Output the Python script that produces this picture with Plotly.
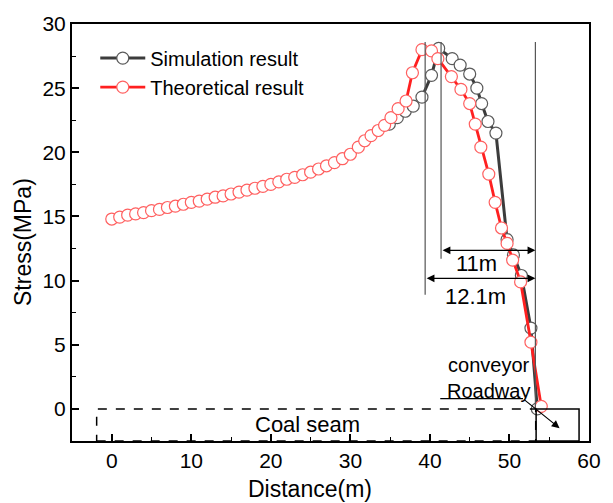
import plotly.graph_objects as go

# Theoretical result (red)
theo_x = [0, 1, 2, 3, 4, 5, 6, 7, 8, 9, 10, 11, 12, 13, 14, 15, 16, 17, 18, 19, 20,
          21, 22, 23, 24, 25, 26, 27, 28, 29, 30, 31, 31.8, 32.6, 33.5, 34.3, 35.1,
          36.0, 37.0, 37.8, 39.0, 40.2, 41.0, 42.7, 43.9, 45.0, 45.7, 46.4, 47.4,
          48.2, 49.0, 49.7, 50.4, 51.4, 52.7, 54.0]
theo_y = [14.8, 14.95, 15.1, 15.2, 15.3, 15.45, 15.55, 15.7, 15.8, 15.95, 16.1, 16.2,
          16.35, 16.5, 16.6, 16.75, 16.9, 17.05, 17.2, 17.35, 17.5, 17.7, 17.9, 18.05,
          18.25, 18.45, 18.7, 18.95, 19.2, 19.5, 19.85, 20.4, 20.9, 21.3, 21.7, 22.1,
          22.7, 23.4, 24.0, 26.2, 28.0, 27.9, 27.3, 25.9, 24.9, 23.8, 22.2, 20.4, 18.3,
          16.1, 14.1, 12.9, 11.6, 9.9, 5.2, 0.2]

# Simulation result (dark grey)
sim_x = [34.9, 35.9, 36.9, 37.9, 39.0, 40.2, 41.1, 42.8, 43.8, 45.0, 45.9, 46.5,
         47.3, 48.3, 49.7, 50.5, 51.5, 52.7, 53.5]
sim_y = [22.2, 22.7, 23.2, 23.6, 24.3, 26.0, 28.1, 27.3, 26.8, 26.1, 25.0, 23.8,
         22.4, 21.5, 13.2, 12.0, 10.4, 6.3, 0.0]

FONT = "Liberation Sans, Arial, sans-serif"

fig = go.Figure()
fig.add_trace(go.Scatter(
    x=sim_x, y=sim_y, mode="lines+markers", name="Simulation result",
    line=dict(color="#3c3c3c", width=3),
    marker=dict(symbol="circle", size=12, color="white",
                line=dict(color="#5a5a5a", width=1.2))))
fig.add_trace(go.Scatter(
    x=theo_x, y=theo_y, mode="lines+markers", name="Theoretical result",
    line=dict(color="#ff2020", width=2.8),
    marker=dict(symbol="circle", size=12, color="white",
                line=dict(color="#ff6060", width=1.2))))

shapes = []
# vertical reference lines
for xv, ylow in [(39.4, 8.9), (41.4, 11.7), (53.26, 0.0)]:
    shapes.append(dict(type="line", xref="x", yref="y", x0=xv, x1=xv, y0=28.6, y1=ylow,
                       line=dict(color="#555555", width=1.2)))
# coal seam (dashed) and roadway (solid) rectangles
shapes.append(dict(type="rect", xref="x", yref="y", x0=-1.9, x1=53.3, y0=-2.5, y1=0,
                   line=dict(color="black", width=1.5, dash="dash")))
shapes.append(dict(type="rect", xref="x", yref="y", x0=53.35, x1=58.75, y0=-2.5, y1=0,
                   line=dict(color="black", width=1.5)))
# underline of Roadway
shapes.append(dict(type="line", xref="x", yref="y", x0=41.3, x1=51.7, y0=0.8, y1=0.8,
                   line=dict(color="black", width=1.2)))

annotations = []
# dimension arrows
for xa, xb, yv in [(41.4, 53.26, 12.36), (39.4, 53.26, 10.18)]:
    annotations.append(dict(x=xb, y=yv, ax=xa, ay=yv, xref="x", yref="y",
                            axref="x", ayref="y", text="", showarrow=True,
                            arrowhead=2, startarrowhead=2, arrowside="end+start",
                            arrowsize=1.3, startarrowsize=1.3, arrowwidth=1.2,
                            arrowcolor="black", standoff=0, startstandoff=0))
annotations.append(dict(x=45.9, y=11.3, xref="x", yref="y", text="11m", showarrow=False,
                        font=dict(size=22, color="black", family=FONT)))
annotations.append(dict(x=45.7, y=8.8, xref="x", yref="y", text="12.1m", showarrow=False,
                        font=dict(size=22, color="black", family=FONT)))
annotations.append(dict(x=24.6, y=-1.25, xref="x", yref="y", text="Coal seam", showarrow=False,
                        font=dict(size=22, color="black", family=FONT)))
annotations.append(dict(x=47.4, y=2.4, xref="x", yref="y", text="conveyor<br>Roadway",
                        showarrow=False, align="center",
                        font=dict(size=20, color="black", family=FONT)))
annotations.append(dict(x=56.3, y=-1.5, ax=51.7, ay=0.8, xref="x", yref="y",
                        axref="x", ayref="y", text="", showarrow=True, arrowhead=2,
                        arrowsize=1.3, arrowwidth=1.2, arrowcolor="black", standoff=0))
# axis titles
annotations.append(dict(x=0.46, y=-0.116, xref="paper", yref="paper", text="Distance(m)",
                        xanchor="center", yanchor="middle",
                        showarrow=False, font=dict(size=23, color="black", family=FONT)))
annotations.append(dict(x=-0.095, y=0.477, xref="paper", yref="paper", text="Stress(MPa)",
                        xanchor="center", yanchor="middle",
                        showarrow=False, textangle=-90,
                        font=dict(size=23, color="black", family=FONT)))

fig.update_layout(
    width=613, height=503,
    margin=dict(l=72, r=13, t=20, b=62),
    paper_bgcolor="white", plot_bgcolor="white",
    font=dict(family=FONT, size=21, color="black"),
    showlegend=True,
    legend=dict(x=0.045, y=0.965, xanchor="left", yanchor="top",
                bgcolor="rgba(0,0,0,0)", font=dict(size=20, family=FONT),
                itemwidth=45, tracegroupgap=0),
    shapes=shapes, annotations=annotations,
    xaxis=dict(range=[-5, 60], tickvals=[0, 10, 20, 30, 40, 50, 60],
               ticks="inside", ticklen=7, tickwidth=1.5, tickcolor="black",
               minor=dict(dtick=5, tick0=0, ticks="inside", ticklen=4, tickwidth=1.2,
                          tickcolor="black"),
               showline=True, linecolor="black", linewidth=2, mirror=True,
               showgrid=False, zeroline=False, tickfont=dict(size=21)),
    yaxis=dict(range=[-2.5, 30], tickvals=[0, 5, 10, 15, 20, 25, 30],
               ticks="inside", ticklen=7, tickwidth=1.5, tickcolor="black",
               minor=dict(dtick=2.5, tick0=0, ticks="inside", ticklen=4, tickwidth=1.2,
                          tickcolor="black"),
               showline=True, linecolor="black", linewidth=2, mirror=True,
               showgrid=False, zeroline=False, tickfont=dict(size=21)),
)

fig.write_html("out.html")
